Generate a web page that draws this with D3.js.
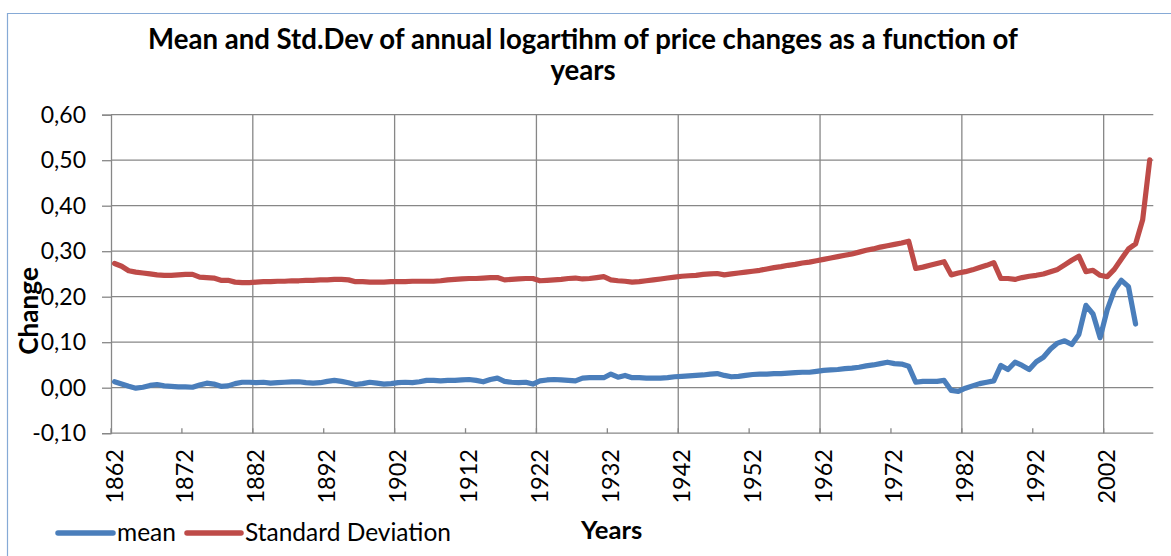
<!DOCTYPE html>
<html><head><meta charset="utf-8">
<script src="https://cdn.jsdelivr.net/npm/d3@7"></script>
<style>body{margin:0;background:#fff}svg{display:block}</style>
</head><body>
<svg id="c" width="1171" height="556"></svg>
<script>
// ---------- DATA ----------
const years = [1862,1863,1864,1865,1866,1867,1868,1869,1870,1871,1872,1873,1874,1875,1876,1877,1878,1879,1880,1881,
1882,1883,1884,1885,1886,1887,1888,1889,1890,1891,1892,1893,1894,1895,1896,1897,1898,1899,1900,1901,
1902,1903,1904,1905,1906,1907,1908,1909,1910,1911,1912,1913,1914,1915,1916,1917,1918,1919,1920,1921,
1922,1923,1924,1925,1926,1927,1928,1929,1930,1931,1932,1933,1934,1935,1936,1937,1938,1939,1940,1941,
1942,1943,1944,1945,1946,1947,1948,1949,1950,1951,1952,1953,1954,1955,1956,1957,1958,1959,1960,1961,
1962,1963,1964,1965,1966,1967,1968,1969,1970,1971,1972,1973,1974,1975,1976,1977,1978,1979,1980,1981,
1982,1983,1984,1985,1986,1987,1988,1989,1990,1991,1992,1993,1994,1995,1996,1997,1998,1999,2000,2001,
2002,2003,2004,2005,2006,2007,2008];

const meanValues = [0.013,0.008,0.003,-0.001,0.001,0.005,0.007,0.004,0.003,0.002,0.002,0.001,0.006,0.010,0.008,0.003,0.004,0.009,0.012,0.012,
0.011,0.012,0.010,0.011,0.012,0.013,0.013,0.011,0.010,0.011,0.014,0.016,0.014,0.011,0.007,0.009,0.012,0.010,0.008,0.009,
0.011,0.012,0.011,0.013,0.016,0.016,0.015,0.016,0.016,0.017,0.018,0.016,0.013,0.018,0.021,0.014,0.012,0.011,0.012,0.008,
0.015,0.017,0.018,0.017,0.016,0.015,0.021,0.022,0.022,0.022,0.030,0.023,0.027,0.022,0.022,0.021,0.021,0.021,0.022,0.024,
0.025,0.026,0.027,0.028,0.030,0.031,0.027,0.024,0.025,0.027,0.029,0.030,0.030,0.031,0.031,0.032,0.033,0.034,0.034,0.036,
0.038,0.039,0.040,0.042,0.043,0.045,0.048,0.050,0.053,0.056,0.053,0.052,0.047,0.012,0.014,0.014,0.014,0.016,-0.006,-0.008,
-0.001,0.004,0.009,0.012,0.015,0.049,0.040,0.056,0.049,0.040,0.057,0.067,0.085,0.098,0.103,0.095,0.117,0.181,0.162,0.110,
0.171,0.214,0.236,0.222,0.140,null,null];

const sdValues = [0.273,0.267,0.257,0.254,0.252,0.250,0.248,0.247,0.247,0.248,0.249,0.249,0.243,0.242,0.241,0.236,0.236,0.232,0.231,0.231,
0.232,0.233,0.233,0.234,0.234,0.235,0.235,0.236,0.236,0.237,0.237,0.238,0.238,0.237,0.233,0.233,0.232,0.232,0.232,0.233,
0.233,0.233,0.234,0.234,0.234,0.234,0.235,0.237,0.238,0.239,0.240,0.240,0.241,0.242,0.242,0.237,0.238,0.239,0.240,0.240,
0.235,0.236,0.237,0.238,0.240,0.241,0.239,0.240,0.242,0.244,0.237,0.235,0.234,0.232,0.233,0.235,0.237,0.239,0.241,0.243,
0.245,0.246,0.247,0.249,0.250,0.251,0.248,0.250,0.252,0.254,0.256,0.258,0.261,0.264,0.266,0.269,0.271,0.274,0.276,0.279,
0.282,0.285,0.288,0.291,0.294,0.298,0.302,0.305,0.309,0.312,0.315,0.318,0.322,0.262,0.265,0.269,0.273,0.277,0.248,0.252,
0.255,0.259,0.264,0.269,0.275,0.240,0.240,0.238,0.242,0.245,0.247,0.250,0.255,0.260,0.270,0.280,0.289,0.255,0.258,0.247,
0.244,0.260,0.283,0.305,0.316,0.369,0.501];

const xTickLabels = ["1862","1872","1882","1892","1902","1912","1922","1932","1942","1952","1962","1972","1982","1992","2002"];
const gridYears = [1882,1902,1922,1942,1962,1982,2002];
const yTicks = [-0.10,0.00,0.10,0.20,0.30,0.40,0.50,0.60];
const seriesNames = ["mean","Standard Deviation"];
const seriesColors = ["#4a7ebb","#be4b48"];
const titleLines = ["Mean and Std.Dev of annual logartihm of price changes as a function of","years"];
const xTitle = "Years";
const yTitle = "Change";

// ---------- LAYOUT ----------
const FONT = "Lato, 'Open Sans', 'Liberation Sans', sans-serif";
const L = 111, R = 1153.3, T = 114.7, B = 433.2;
const svg = d3.select("#c");

// outer chart border (left / top)
svg.append("path").attr("d","M7.5,556 V13.5 H1171").attr("fill","none").attr("stroke","#86aad6").attr("stroke-width",1.2);

const x = d3.scaleBand().domain(years).range([L, R]).padding(0);
const cx = yr => x(yr) + x.bandwidth()/2;
const y = d3.scaleLinear().domain([-0.1, 0.6]).range([B, T]);

const grid = svg.append("g").attr("stroke","#878787").attr("stroke-width",1.3);
yTicks.forEach(t => grid.append("line").attr("x1",L).attr("x2",R).attr("y1",y(t)).attr("y2",y(t)));
gridYears.forEach(g => grid.append("line").attr("x1",x(g)).attr("x2",x(g)).attr("y1",T).attr("y2",B));
// x tick marks (inside) every 10 categories
xTickLabels.forEach(lb => { const xx = x(+lb); grid.append("line").attr("x1",xx).attr("x2",xx).attr("y1",B-5).attr("y2",B); });

// y axis
const yAxis = d3.axisLeft(y).tickValues(yTicks).tickSize(9).tickPadding(16)
  .tickFormat(d => d3.format(".2f")(d).replace(".", ",").replace("−","-"));
const ya = svg.append("g").attr("transform",`translate(${L},0)`).call(yAxis);
ya.select(".domain").attr("stroke","#878787").attr("stroke-width",1.3);
ya.selectAll(".tick line").attr("stroke","#878787").attr("stroke-width",1.3);
ya.selectAll("text").attr("font-family",FONT).attr("font-size",23).attr("fill","#000");

// x labels rotated
const xl = svg.append("g");
xTickLabels.forEach(lb => {
  xl.append("text").attr("transform",`translate(${cx(+lb)+8},449) rotate(-90)`)
    .attr("text-anchor","end").attr("font-family",FONT).attr("font-size",23.5).attr("fill","#000").text(lb);
});

// lines
const data = [meanValues, sdValues];
data.forEach((vals,i) => {
  const line = d3.line().defined(d => d[1] != null).x(d => cx(d[0])).y(d => y(d[1]));
  svg.append("path").datum(years.map((yr,j)=>[yr, vals[j]]))
    .attr("d", line).attr("fill","none").attr("stroke",seriesColors[i])
    .attr("stroke-width",5.2).attr("stroke-linejoin","round").attr("stroke-linecap","round");
});

// title
const t1 = svg.append("text").attr("x",583).attr("y",49).attr("text-anchor","middle")
  .attr("font-family",FONT).attr("font-weight","bold").attr("font-size",24).text(titleLines[0]);
const w1 = t1.node().getComputedTextLength();
const titleSize = 24*870/w1;
t1.attr("font-size",titleSize);
svg.append("text").attr("x",583).attr("y",80).attr("text-anchor","middle")
  .attr("font-family",FONT).attr("font-weight","bold").attr("font-size",titleSize).text(titleLines[1]);

// axis titles
svg.append("text").attr("x",581).attr("y",539).attr("font-family",FONT).attr("font-weight","bold")
  .attr("font-size",titleSize*0.93).text(xTitle);
svg.append("text").attr("transform","translate(38,311) rotate(-90)").attr("text-anchor","middle")
  .attr("font-family",FONT).attr("font-weight","bold").attr("font-size",titleSize*0.95).text(yTitle);

// legend
const legX = [[58,113,117],[187,241,245]];
seriesNames.forEach((n,i) => {
  svg.append("line").attr("x1",legX[i][0]).attr("x2",legX[i][1]).attr("y1",533).attr("y2",533)
    .attr("stroke",seriesColors[i]).attr("stroke-width",5.5).attr("stroke-linecap","round");
  svg.append("text").attr("x",legX[i][2]).attr("y",541).attr("font-family",FONT).attr("font-size",24.5).text(n);
});
</script>
</body></html>
